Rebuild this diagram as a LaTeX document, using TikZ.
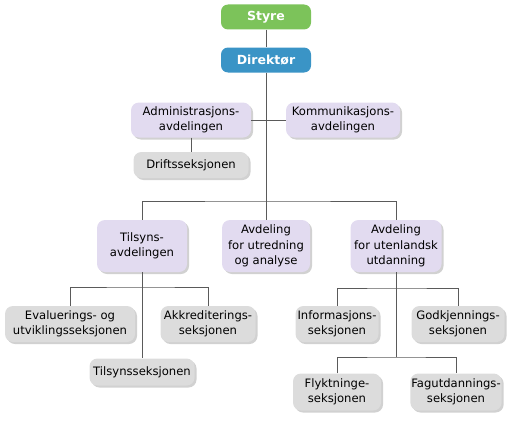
\documentclass[tikz,border=0pt]{standalone}
\usepackage{fontspec}
\setmainfont{DejaVu Sans}
\usetikzlibrary{positioning, shadows}
\definecolor{styregreen}{HTML}{7CC35A}
\definecolor{dirblue}{HTML}{3A94C6}
\definecolor{unitlilac}{HTML}{E2DBF0}
\definecolor{secgrey}{HTML}{DCDCDC}
\definecolor{linegrey}{HTML}{5A5A5A}

\begin{document}
\begin{tikzpicture}[x=1pt, y=-1pt,
      head/.style={rectangle, rounded corners=7pt, minimum width=90pt, minimum height=25pt, text=white, font=\bfseries\fontsize{12.5}{14}\selectfont},
      unit/.style={rectangle, rounded corners=8pt, fill=unitlilac, align=center, inner sep=1pt, font=\fontsize{11.6}{15.5}\selectfont, drop shadow={shadow xshift=2pt, shadow yshift=-2pt, fill=black!30, opacity=0.6}},
      section/.style={unit, fill=secgrey},
      link/.style={draw=linegrey, line width=1pt}
    ]
    \useasboundingbox (0,0) rectangle (510,420);

    % Top
    \node[head, fill=styregreen] (styre) at (266,17) {Styre};
    \node[head, fill=dirblue] (direktor) at (266,60) {Direktør};

    % Staff departments
    \node[unit, minimum width=120pt, minimum height=35pt] (admin) at (191,120) {Administrasjons-\\avdelingen};
    \node[unit, minimum width=114pt, minimum height=35pt] (komm) at (343,120) {Kommunikasjons-\\avdelingen};
    \node[section, minimum width=115pt, minimum height=26pt] (drift) at (191,165) {Driftsseksjonen};

    % Departments
    \node[unit, minimum width=90pt, minimum height=52pt] (tilsyn) at (142,246) {Tilsyns-\\avdelingen};
    \node[unit, minimum width=88pt, minimum height=52pt] (utredning) at (266,246) {Avdeling\\for utredning\\og analyse};
    \node[unit, minimum width=91pt, minimum height=52pt] (utland) at (396,246) {Avdeling\\for utenlandsk\\utdanning};

    % Sections
    \node[section, minimum width=130pt, minimum height=36pt] (evaluering) at (70,324) {Evaluerings- og\\utviklingsseksjonen};
    \node[section, minimum width=95pt, minimum height=36pt] (akkreditering) at (208,324) {Akkrediterings-\\seksjonen};
    \node[section, minimum width=105pt, minimum height=27pt] (tilsynssek) at (142,372) {Tilsynsseksjonen};
    \node[section, minimum width=83pt, minimum height=36pt] (informasjon) at (337,324) {Informasjons-\\seksjonen};
    \node[section, minimum width=93pt, minimum height=36pt] (godkjenning) at (458,324) {Godkjennings-\\seksjonen};
    \node[section, minimum width=88pt, minimum height=37pt] (flyktning) at (337,392) {Flyktninge-\\seksjonen};
    \node[section, minimum width=91pt, minimum height=37pt] (fagutdanning) at (456,392) {Fagutdannings-\\seksjonen};

    % Junctions
    \coordinate (bar) at (266,201);
    \coordinate (tbar) at (142,287);
    \coordinate (ubar1) at (396,288);
    \coordinate (ubar2) at (396,357);

    % Lines
    \draw[link] (styre) -- (direktor);
    \draw[link] (direktor) -- (utredning);
    \draw[link] (admin) -- (komm);
    \draw[link] (admin) -- (drift);
    \draw[link] (tilsyn) |- (bar) -| (utland);
    \draw[link] (tilsyn) -- (tilsynssek);
    \draw[link] (evaluering) |- (tbar) -| (akkreditering);
    \draw[link] (utland) -- (ubar2);
    \draw[link] (informasjon) |- (ubar1) -| (godkjenning);
    \draw[link] (flyktning) |- (ubar2) -| (fagutdanning);
  \end{tikzpicture}
\end{document}
